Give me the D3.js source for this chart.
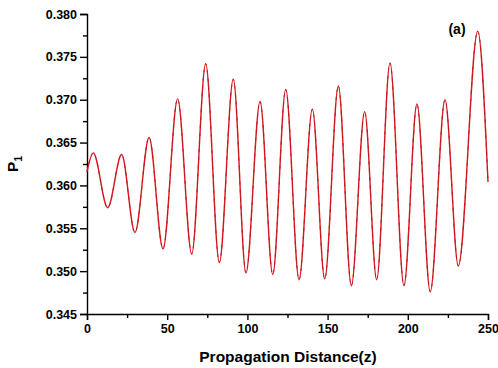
<!DOCTYPE html>
<html>
<head>
<meta charset="utf-8">
<script src="https://cdn.jsdelivr.net/npm/d3@7"></script>
<style>
  body { margin: 0; background: #fff; }
  text { font-family: "Liberation Sans", Arial, sans-serif; font-weight: bold; }
</style>
</head>
<body>
<div id="chart"></div>
<script>
// extrema of the oscillation (z, P1)
const zValues = [0, 3.9, 12.9, 21.6, 29.9, 38.7, 47.4, 56.5, 65.3, 74.0, 82.5, 91.2, 99.1,
  107.9, 115.8, 123.9, 132.2, 140.5, 148.2, 156.7, 164.8, 173.1, 180.6, 188.9, 197.6,
  205.7, 214.0, 223.2, 231.5, 243.6, 250];
const pValues = [0.3616, 0.3638, 0.3574, 0.3636, 0.3545, 0.3656, 0.3526, 0.3701, 0.3520,
  0.3742, 0.3510, 0.3724, 0.3498, 0.3698, 0.3496, 0.3712, 0.3490, 0.3689, 0.3491,
  0.3716, 0.3483, 0.3686, 0.3490, 0.3743, 0.3483, 0.3695, 0.3476, 0.3700, 0.3506,
  0.3780, 0.3604];
const xTicks = [0, 50, 100, 150, 200, 250];
const xMinor = [25, 75, 125, 175, 225];
const yTicks = [0.345, 0.350, 0.355, 0.360, 0.365, 0.370, 0.375, 0.380];
const yMinor = [0.3475, 0.3525, 0.3575, 0.3625, 0.3675, 0.3725, 0.3775];

const data = zValues.map((z, i) => ({ z: z, p: pValues[i] }));

const W = 498, H = 368;
const margin = { top: 14, right: 10, bottom: 54, left: 87 };
const width = 488 - margin.left;
const height = 314 - margin.top;

const svg = d3.select("#chart").append("svg")
  .attr("width", W).attr("height", H);
const g = svg.append("g").attr("transform", `translate(${margin.left},${margin.top})`);

const x = d3.scaleLinear().domain([0, 250]).range([0, width]);
const y = d3.scaleLinear().domain([0.345, 0.380]).range([height, 0]);

// minor ticks
g.append("g").attr("transform", `translate(0,${height})`)
  .call(d3.axisBottom(x).tickValues(xMinor).tickSize(4).tickFormat(""))
  .call(a => a.select(".domain").remove());
g.append("g")
  .call(d3.axisLeft(y).tickValues(yMinor).tickSize(4).tickFormat(""))
  .call(a => a.select(".domain").remove());

// major axes
g.append("g").attr("transform", `translate(0,${height})`)
  .call(d3.axisBottom(x).tickValues(xTicks).tickSizeOuter(0).tickSize(6).tickPadding(4));
g.append("g")
  .call(d3.axisLeft(y).tickValues(yTicks).tickSizeOuter(0).tickSize(7).tickPadding(3)
    .tickFormat(d3.format(".3f")));

g.selectAll(".tick line, .domain").attr("stroke", "#000").attr("stroke-width", 1.4);
g.selectAll(".tick text").attr("font-size", 12.5).attr("fill", "#000")
  .attr("font-family", "'Liberation Sans', Arial, sans-serif").attr("font-weight", "bold");

// curve: red line with darker dashes over it
const line = d3.line().x(d => x(d.z)).y(d => y(d.p)).curve(d3.curveMonotoneX);
g.append("path").datum(data).attr("d", line)
  .attr("fill", "none").attr("stroke", "#e3121b").attr("stroke-width", 1.4);
g.append("path").datum(data).attr("d", line)
  .attr("fill", "none").attr("stroke", "#8e2b2b").attr("stroke-width", 0.9)
  .attr("stroke-dasharray", "3,5");

// labels
svg.append("text").attr("x", 288).attr("y", 362).attr("text-anchor", "middle")
  .attr("font-size", 15.5).text("Propagation Distance(z)");

const yl = svg.append("text").attr("transform", "translate(18,164) rotate(-90)")
  .attr("text-anchor", "middle").attr("font-size", 15.5);
yl.append("tspan").text("P");
yl.append("tspan").attr("font-size", 10).attr("dy", 4).text("1");

svg.append("text").attr("x", 457).attr("y", 34).attr("text-anchor", "middle")
  .attr("font-size", 14).text("(a)");
</script>
</body>
</html>
